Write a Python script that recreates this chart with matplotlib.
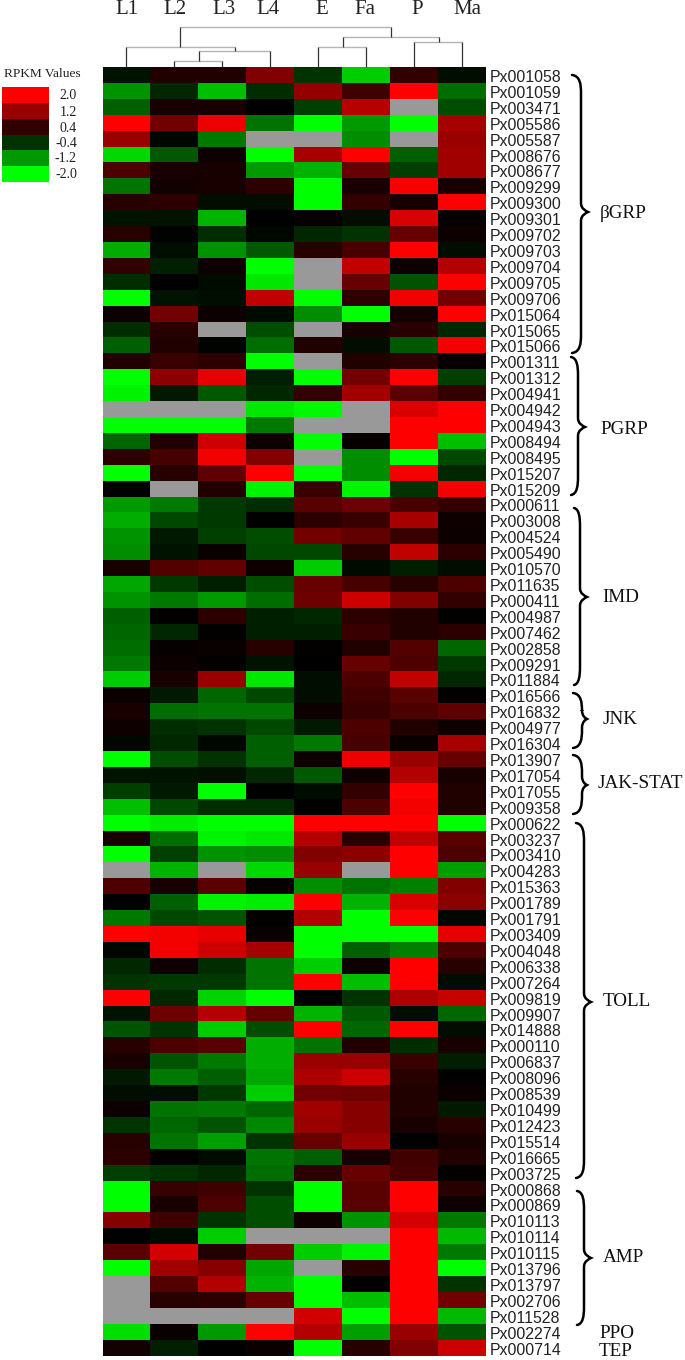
import numpy as np
import matplotlib
matplotlib.use("Agg")
import matplotlib.pyplot as plt
from matplotlib.colors import LinearSegmentedColormap
from matplotlib.path import Path
from matplotlib.patches import PathPatch

n = np.nan

stages = ["L1", "L2", "L3", "L4", "E", "Fa", "P", "Ma"]
stage_x = [127, 175, 224, 268, 322, 365, 417, 467]

genes = ["Px001058", "Px001059", "Px003471", "Px005586", "Px005587", "Px008676", "Px008677", "Px009299", "Px009300",
         "Px009301", "Px009702", "Px009703", "Px009704", "Px009705", "Px009706", "Px015064", "Px015065", "Px015066",
         "Px001311", "Px001312", "Px004941", "Px004942", "Px004943", "Px008494", "Px008495", "Px015207", "Px015209",
         "Px000611", "Px003008", "Px004524", "Px005490", "Px010570", "Px011635", "Px000411", "Px004987", "Px007462",
         "Px002858", "Px009291", "Px011884", "Px016566", "Px016832", "Px004977", "Px016304", "Px013907", "Px017054",
         "Px017055", "Px009358", "Px000622", "Px003237", "Px003410", "Px004283", "Px015363", "Px001789", "Px001791",
         "Px003409", "Px004048", "Px006338", "Px007264", "Px009819", "Px009907", "Px014888", "Px000110", "Px006837",
         "Px008096", "Px008539", "Px010499", "Px012423", "Px015514", "Px016665", "Px003725", "Px000868", "Px000869",
         "Px010113", "Px010114", "Px010115", "Px013796", "Px013797", "Px002706", "Px011528", "Px002274", "Px000714"]

# expression per gene, columns in the order of stages, nan = grey cell
bgrp = [[-.15, .25, .25, 1.0, -.4, -1.6, .4, -.1],
        [-1.15, -.3, -1.5, -.35, 1.15, .5, 2, -.85],
        [-.75, .2, .2, 0, -.5, 1.45, n, -.6],
        [2, .9, 1.85, -.9, -2, -1.2, -2, 1.3],
        [1.2, -.05, -.95, n, n, -1.1, n, 1.2],
        [-1.7, -.7, .1, -2, 1.3, 2, -.75, 1.25],
        [.6, .2, .2, -1.2, -1.4, .8, -.5, 1.25],
        [-.9, .15, .2, .35, -2, .2, 1.95, .2],
        [.3, .35, -.1, -.1, -2, .4, .2, 2],
        [-.15, -.15, -1.4, 0, .05, -.1, 1.7, .05],
        [.3, -.03, -.35, -.05, -.3, -.4, .8, .1],
        [-1.35, -.1, -1.15, -.7, .3, .55, 2, -.1],
        [.4, -.25, .1, -2, n, 1.5, .1, 1.4],
        [-.35, 0, -.08, -1.8, n, .8, -.65, 2],
        [-2, -.15, -.1, 1.5, -2, .35, 1.9, .9],
        [.1, .9, .1, -.08, -1.1, -2, .15, 2],
        [-.35, .3, n, -.6, n, .2, .3, -.3],
        [-.75, .25, -.03, -.85, .25, -.1, -.7, 1.9]]
pgrp = [[.25, .45, .35, -2, n, .25, .35, .05],
        [-2, 1.1, 1.8, -.25, -2, .9, 2, -.5],
        [-1.9, -.2, -.7, -.3, .4, 1.25, .7, .4],
        [n, n, n, -1.8, -1.95, n, 1.7, 2],
        [-2, -2, -2, -.95, n, n, 2, 2],
        [-.8, .25, 1.6, .1, -2, .05, 2, -1.5],
        [.35, .55, 1.9, 1.0, n, -1.1, -2, -.55],
        [-2, .3, .75, 2, -2, -1.1, 1.9, -.3],
        [0, n, .25, -1.9, .45, -1.9, -.4, 1.9]]
imd = [[-1.2, -.95, -.45, -.35, .7, .85, .55, .4],
       [-1.35, -.55, -.45, 0, .35, .45, 1.3, .12],
       [-1.15, -.2, -.5, -.6, .9, .75, .45, .1],
       [-1.1, -.15, .07, -.55, -.55, .3, 1.5, .35],
       [.2, .65, .75, .12, -1.6, -.08, -.25, -.1],
       [-1.3, -.45, -.25, -.6, .8, .55, .3, .6],
       [-1.15, -.95, -1.2, -.85, .85, 1.6, 1.0, .4],
       [-.75, .03, .35, -.25, -.3, .35, .25, .03],
       [-.8, -.3, .03, -.25, -.25, .45, .25, .35],
       [-.85, .05, .07, .3, .03, .25, .65, -.8],
       [-.95, .1, .02, -.15, .01, .8, .6, -.45],
       [-1.6, .2, 1.2, -1.8, -.1, .6, 1.5, -.3]]
jnk = [[.08, -.2, -.8, -.55, -.1, .5, .7, .02],
       [.2, -.85, -.9, -.9, .12, .45, .6, .75],
       [.12, -.35, -.4, -.55, -.2, .6, .25, .1],
       [-.05, -.3, -.05, -.75, -.95, .55, .07, 1.3]]
jak = [[-2, -.6, -.4, -.75, .12, 1.85, 1.2, .8],
       [-.15, -.15, -.12, -.3, -.7, .12, 1.4, .2],
       [-.5, -.2, -2, 0, -.08, .4, 2, .25],
       [-1.5, -.55, -.35, -.35, 0, .6, 1.9, .25]]
toll = [[-2, -1.85, -2, -2, 2, 2, 2, -2],
        [.2, -.85, -1.9, -1.8, 1.4, .3, 1.5, .7],
        [-2, -.5, -1.15, -1.1, 1.0, 1.1, 2, .6],
        [n, -1.4, n, -1.7, 1.2, n, 2, -1.25],
        [.6, .2, .7, .05, -1.1, -.9, -1, 1.0],
        [0, -.75, -1.9, -1.85, 2, -1.4, 1.7, 1.1],
        [-.95, -.55, -.65, .03, 1.4, -2, 2, -.05],
        [2, 1.9, 1.8, .07, -2, -2, -2, 1.8],
        [-.05, 1.9, 1.6, 1.3, -2, -.75, -1, .6],
        [-.3, .1, -.35, -.9, -1.6, .1, 2, .3],
        [-.4, -.45, -.45, -.9, 2, -1.5, 2, -.1],
        [2, -.3, -1.65, -2, 0, -.4, 1.35, 1.55],
        [-.15, .85, 1.4, .8, -1.4, -.7, -.1, -.8],
        [-.65, -.4, -1.6, -.6, 2, -.8, 2, -.1],
        [.3, .6, .7, -1.35, -.9, .25, -.35, .2],
        [.2, -.65, -.95, -1.35, 1.2, 1.2, .45, -.25],
        [-.2, -.95, -.75, -1.3, 1.35, 1.6, .3, 0],
        [-.1, -.1, -.45, -1.6, .9, .85, .25, .08],
        [.1, -.9, -.95, -.8, 1.25, 1.05, .25, -.2],
        [-.4, -.8, -.65, -1.05, 1.2, 1.05, .2, .3],
        [.3, -.9, -1.25, -.4, .8, 1.2, 0, .2],
        [.35, .02, -.08, -.9, -.75, .2, .5, .25],
        [-.5, -.4, -.3, -.85, .35, .8, .55, .02]]
amp = [[-2, .45, .5, -.4, -2, .7, 2, .3],
       [-2, .2, .6, -.6, -2, .7, 2, .12],
       [1.05, .5, -.4, -.6, .12, -1.15, 1.65, -.95],
       [0, -.08, -1.6, n, n, n, 2, -1.45],
       [.7, 1.65, .25, .9, -1.6, -1.9, 2, -.95],
       [-2, 1.25, 1.05, -1.3, n, .3, 2, -2],
       [n, .65, 1.4, -1.4, -2, .02, 2, -.4],
       [n, .3, .35, .8, -2, -1.5, 2, .9],
       [n, n, n, n, 1.65, -2, 2, -1.45]]
ppo_tep = [[-1.75, .07, -1.2, 2, 1.4, -1.25, 1.2, -.65],
           [.15, -.25, 0, .08, -2, .3, 1.0, 1.6]]

legend_vals = [2.0, 1.2, 0.4, -0.4, -1.2, -2.0]
legend_labels = ["2.0", "1.2", "0.4", "-0.4", "-1.2", "-2.0"]

matrix = np.array(bgrp + pgrp + imd + jnk + jak + toll + amp + ppo_tep)

W, H = 685, 1360
fig = plt.figure(figsize=(W / 100, H / 100), dpi=100, facecolor="white")

cmap = LinearSegmentedColormap.from_list("gbr", ["#00ff00", "#000000", "#ff0000"], N=256)
cmap.set_bad("#999999")


def add_axes_px(x0, y0, x1, y1):
    return fig.add_axes([x0 / W, 1 - y1 / H, (x1 - x0) / W, (y1 - y0) / H])


# heatmap
left, right, top, bottom = 102.5, 485.5, 67, 1355.5
ax = add_axes_px(left, top, right, bottom)
ax.pcolormesh(np.ma.masked_invalid(matrix), cmap=cmap, vmin=-2, vmax=2)
ax.set_ylim(len(genes), 0)
ax.axis("off")
for i, g in enumerate(genes):
    ax.text(8.08, i + 0.66, g, family="Liberation Sans", fontsize=11.4, color="#222222",
            ha="left", va="center", clip_on=False)

# everything around the heatmap is placed in image pixels
over = fig.add_axes([0, 0, 1, 1], facecolor="none")
over.set_xlim(0, W)
over.set_ylim(H, 0)
over.axis("off")

for s, x in zip(stages, stage_x):
    over.text(x, 9, s, family="Liberation Serif", fontsize=15, color="#222222", ha="center", va="center")

# dendrogram: (x left, x right, y join, y left foot, y right foot)
cx = [left + (i + 0.5) * (right - left) / 8 for i in range(8)]
links = [(cx[1], cx[2], 61, 67, 67),
         (199, cx[3], 51, 61, 67),
         (cx[0], 235, 47, 67, 51),
         (cx[4], cx[5], 47, 67, 67),
         (cx[6], cx[7], 42, 67, 67),
         (343, 439, 37, 47, 42),
         (180, 391, 27, 47, 37)]
for xa, xb, yj, ya, yb in links:
    over.plot([xa, xb], [yj, yj], color="#b5b5b5", lw=1.0, solid_capstyle="butt")
    over.plot([xa, xa], [yj, ya], color="#333333", lw=0.9, solid_capstyle="butt")
    over.plot([xb, xb], [yj, yb], color="#333333", lw=0.9, solid_capstyle="butt")

# colour key
over.text(42.5, 74, "RPKM Values", family="Liberation Serif", fontsize=9.6, color="#222222",
          ha="center", va="center")
key = add_axes_px(2, 87, 49, 182)
key.pcolormesh(np.array(legend_vals).reshape(-1, 1), cmap=cmap, vmin=-2, vmax=2)
key.set_ylim(len(legend_vals), 0)
key.axis("off")
key_y = [95.5, 112.5, 128.5, 143.5, 159, 175]
for lab, y in zip(legend_labels, key_y):
    over.text(77, y, lab, family="Liberation Serif", fontsize=10, color="#222222",
              ha="right", va="center")


def brace(x0, xs, xt, y0, ym, y1, lw=1.8):
    d = 9
    verts = [(x0, y0), (xs - 1, y0 + 1), (xs, y0 + d), (xs, y0 + 2 * d),
             (xs, ym - d),
             (xs, ym - 3), (xt - 2, ym - 1), (xt, ym),
             (xt - 2, ym + 1), (xs, ym + 3), (xs, ym + d),
             (xs, y1 - 2 * d),
             (xs, y1 - d), (xs - 1, y1 - 1), (x0, y1)]
    codes = [Path.MOVETO, Path.CURVE4, Path.CURVE4, Path.CURVE4, Path.LINETO,
             Path.CURVE4, Path.CURVE4, Path.CURVE4, Path.CURVE4, Path.CURVE4, Path.CURVE4,
             Path.LINETO, Path.CURVE4, Path.CURVE4, Path.CURVE4]
    over.add_patch(PathPatch(Path(verts, codes), fill=False, edgecolor="black", lw=lw, capstyle="round"))


brace(572, 581, 588, 75, 212, 353)
brace(571, 578, 585, 357, 427, 495)
brace(574, 580, 587, 508, 597, 685)
brace(573, 582, 587, 693, 719, 748)
brace(573, 582, 587, 755, 785, 814)
brace(576, 584, 591, 823, 1002, 1178)
brace(577, 584, 591, 1191, 1258, 1325)

group_labels = ["βGRP", "PGRP", "IMD", "JNK", "JAK-STAT", "TOLL", "AMP", "PPO", "TEP"]
group_x = [600, 600, 602, 603, 598, 603, 603, 599, 599]
group_y = [213, 429, 597, 719, 784, 1001, 1258, 1334, 1352]
for lab, x, y in zip(group_labels, group_x, group_y):
    over.text(x, y, lab, family=["Liberation Serif", "DejaVu Serif"], fontsize=13.8, color="#111111",
              ha="left", va="center")

fig.savefig("out.png", dpi=100)
